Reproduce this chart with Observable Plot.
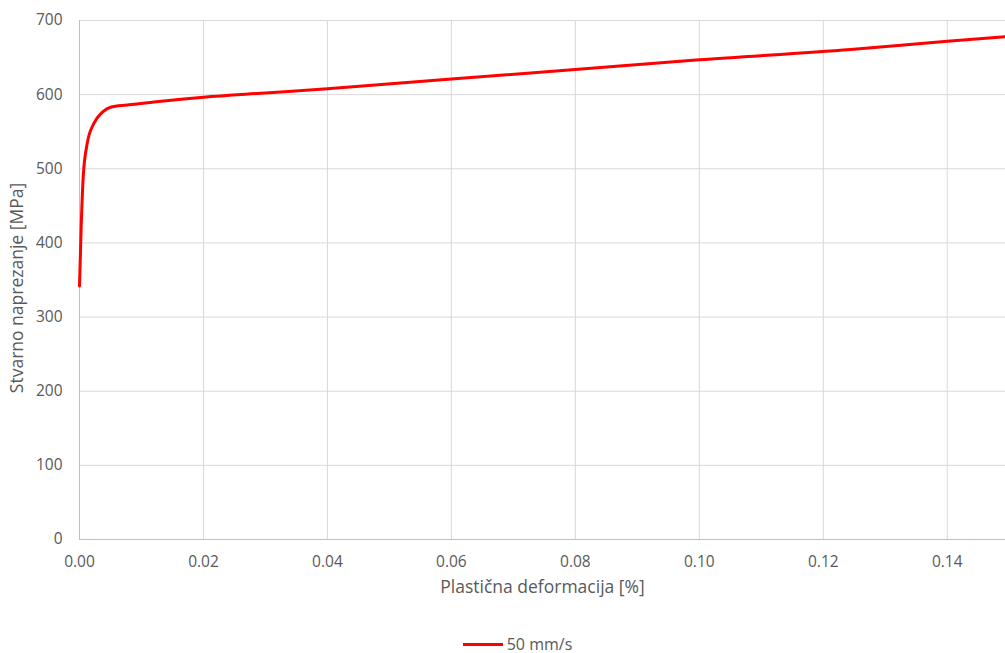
<!DOCTYPE html>
<html>
<head>
<meta charset="utf-8">
<script src="https://cdn.jsdelivr.net/npm/d3@7"></script>
<script src="https://cdn.jsdelivr.net/npm/@observablehq/plot@0.6"></script>
<style>
  html, body { margin: 0; padding: 0; background: #fff; }
  body { width: 1005px; height: 653px; overflow: hidden; font-family: "Open Sans", sans-serif; }
  #legend { display: flex; justify-content: center; align-items: center; margin-top: 23px; font-size: 16px; color: #595959; padding-left: 30px; }
  #legend .sw { width: 40px; height: 3px; background: #ff0000; margin-right: 4px; }
</style>
</head>
<body>
<div id="chart"></div>
<div id="legend"><span class="sw"></span><span id="legendLabel"></span></div>
<script>
const seriesName = "50 mm/s";
const strain = [0, 0.00027, 0.0006, 0.00124, 0.0023, 0.00366, 0.005, 0.0077, 0.012, 0.016, 0.02, 0.03, 0.04, 0.06, 0.08, 0.10, 0.1244, 0.14, 0.1494];
const stress = [342, 421, 489, 534, 561, 576, 583, 586, 590, 593.4, 596.5, 602.3, 608, 621, 634, 647, 661, 672, 678];
const xTicks = [0, 0.02, 0.04, 0.06, 0.08, 0.10, 0.12, 0.14];
const yTicks = [0, 100, 200, 300, 400, 500, 600, 700];
const xLabel = "Plastična deformacija [%]";
const yLabel = "Stvarno naprezanje [MPa]";

const data = strain.map((x, i) => ({x, y: stress[i]}));

const chart = Plot.plot({
  width: 1005,
  height: 610,
  marginLeft: 79,
  marginRight: 0,
  marginTop: 20,
  marginBottom: 71,
  style: {fontFamily: "Open Sans, sans-serif", fontSize: "15.5px", color: "#595959", background: "#fff"},
  x: {domain: [0, 0.1494]},
  y: {domain: [0, 700]},
  marks: [
    Plot.gridX(xTicks, {stroke: "#d9d9d9", strokeOpacity: 1}),
    Plot.gridY(yTicks, {stroke: "#d9d9d9", strokeOpacity: 1}),
    Plot.ruleX([0], {stroke: "#bfbfbf"}),
    Plot.ruleY([0], {stroke: "#bfbfbf"}),
    Plot.axisX(xTicks, {tickSize: 0, tickPadding: 16, tickFormat: d3.format(".2f"), label: null, fill: "#595959", fontSize: 15.5}),
    Plot.axisY(yTicks, {tickSize: 0, tickPadding: 17, label: null, fill: "#595959", fontSize: 15.5}),
    Plot.text([xLabel], {frameAnchor: "bottom", dy: 53, fill: "#595959", fontSize: 17.5}),
    Plot.text([yLabel], {frameAnchor: "left", textAnchor: "middle", dx: -62, dy: 8, rotate: -90, fill: "#595959", fontSize: 17.5}),
    Plot.line(data, {x: "x", y: "y", stroke: "#ff0000", strokeWidth: 3, curve: "monotone-x"})
  ]
});
document.getElementById("chart").appendChild(chart);
document.getElementById("legendLabel").textContent = seriesName;
</script>
</body>
</html>
